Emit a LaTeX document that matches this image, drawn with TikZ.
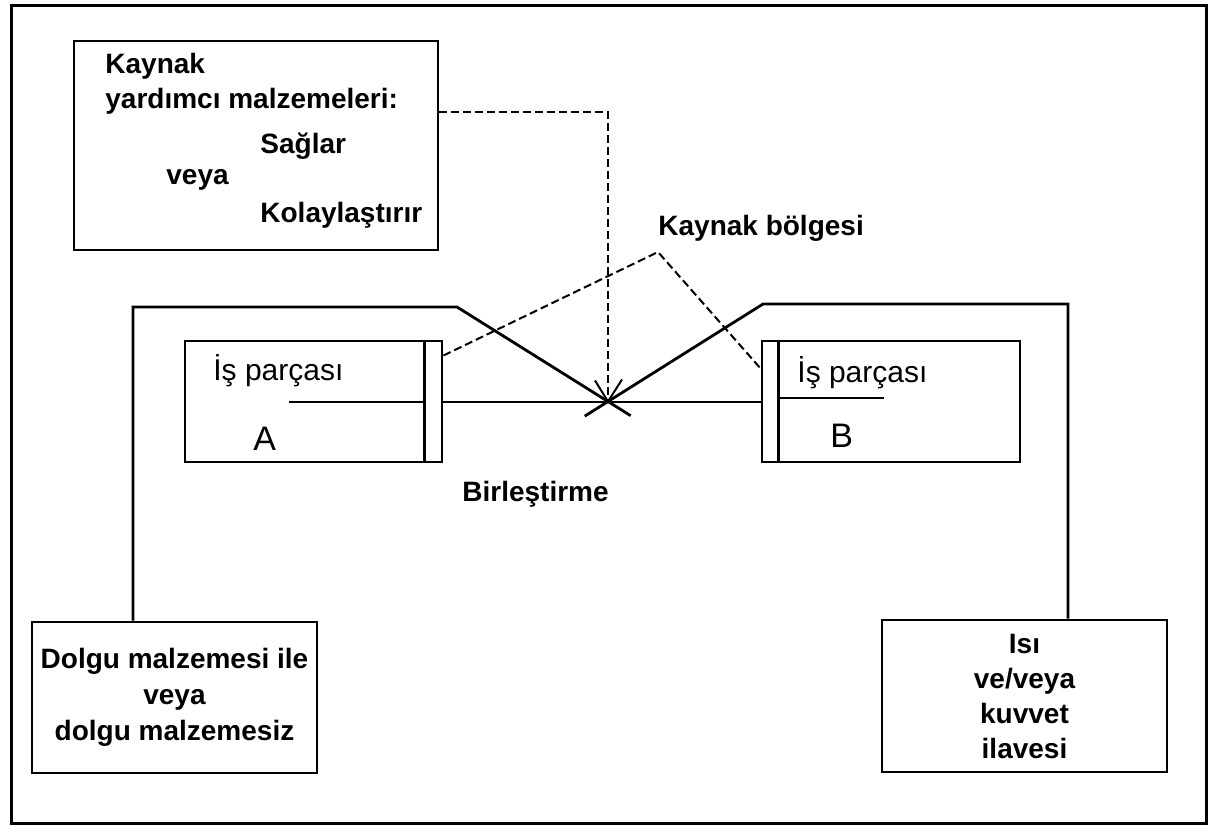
\documentclass[tikz,border=0pt]{standalone}
\usepackage{fontspec}
\setmainfont{Liberation Sans}
\usetikzlibrary{calc}

\begin{document}
\begin{tikzpicture}[%
      x=0.5pt, y=-0.5pt,
      kutu/.style={draw, line width=1.4pt, inner sep=0pt},
      yazi/.style={font=\fontsize{14}{18}\selectfont\bfseries, inner sep=0pt},
      parca/.style={font=\fontsize{15}{18}\selectfont, inner sep=0pt},
      harf/.style={font=\fontsize{17}{20}\selectfont, inner sep=0pt},
      kalin/.style={line width=1.4pt},
      ince/.style={line width=1pt},
      kesik/.style={line width=1pt, dash pattern=on 4pt off 2pt},
      ]
      \useasboundingbox (0,0) rectangle (1209,826);
      \draw [line width=1.5pt] (11,5) rectangle (1206,823);

      % kutular
      \node [kutu, minimum width=182pt, minimum height=104.5pt] (kaynakbox) at (256,145.5) {};
      \node [kutu, yazi, minimum width=142.5pt, minimum height=75.5pt, align=center] (dolgubox) at (174.5,697.5)
            {Dolgu malzemesi ile\\veya\\dolgu malzemesiz};
      \node [kutu, yazi, font=\fontsize{14}{17.5}\selectfont\bfseries, minimum width=142.5pt, minimum height=76pt, align=center] (isibox) at (1024.5,696)
            {Isı\\ve/veya\\kuvvet\\ilavesi};
      \node [kutu, minimum width=128.5pt, minimum height=60.5pt] (parcaA) at (313.5,401.5) {};
      \node [kutu, minimum width=129pt, minimum height=60.5pt] (parcaB) at (891,401.5) {};

      \draw [kalin] ([xshift=-9.5pt]parcaA.north east) -- ([xshift=-9.5pt]parcaA.south east);
      \draw [kalin] ([xshift=9pt]parcaB.north west) -- ([xshift=9pt]parcaB.south west);
      \draw [ince] ([xshift=-9.5pt]parcaA.east) -- ++(-135,0);
      \draw [ince] ([xshift=9pt,yshift=2pt]parcaB.west) -- ++(105,0);

      % yazilar
      \node [yazi, anchor=base west] (kaynak1) at (105,73) {Kaynak};
      \node [yazi, anchor=base west] (kaynak2) at (105,108) {yardımcı malzemeleri:};
      \node [yazi, anchor=base west] (saglar) at (260,153) {Sağlar};
      \node [yazi, anchor=base west] (veya) at (166,184) {veya};
      \node [yazi, anchor=base west] (kolay) at (260,222) {Kolaylaştırır};
      \node [yazi, anchor=base west] (bolge) at (658,235) {Kaynak bölgesi};
      \node [yazi, anchor=base west] (birles) at (462,501) {Birleştirme};
      \node [parca, anchor=base west] (isA) at (213,380) {İş parçası};
      \node [harf, anchor=base west] (harfA) at (253,450) {A};
      \node [parca, anchor=base west] (isB) at (797,382) {İş parçası};
      \node [harf, anchor=base west] (harfB) at (830,447) {B};

      % birlestirme noktasi
      \coordinate (weld) at (608,401.5);
      \coordinate (lkose) at (133,307);
      \coordinate (lbend) at (457,307);
      \coordinate (rbend) at (763,304);
      \coordinate (rkose) at (1068,304);
      \coordinate (dkose) at (608,112);
      \coordinate (zirve) at (658,252);

      \draw [ince] (parcaA.east) -- (weld) -- (parcaB.west);
      \draw [ince] (weld) -- ++(-13,-21);
      \draw [ince] (weld) -- ++(14,-22);
      \draw [kalin] (dolgubox.north -| lkose) -- (lkose) -- (lbend) -- (weld) -- ($(lbend)!1.15!(weld)$);
      \draw [kalin] (isibox.north -| rkose) -- (rkose) -- (rbend) -- (weld) -- ($(rbend)!1.15!(weld)$);

      \draw [kesik] (kaynakbox.east |- dkose) -- (dkose) -- (weld);
      \draw [kesik] ([yshift=23pt]parcaA.east) -- (zirve) -- ([yshift=16.5pt]parcaB.west);
\end{tikzpicture}
\end{document}
